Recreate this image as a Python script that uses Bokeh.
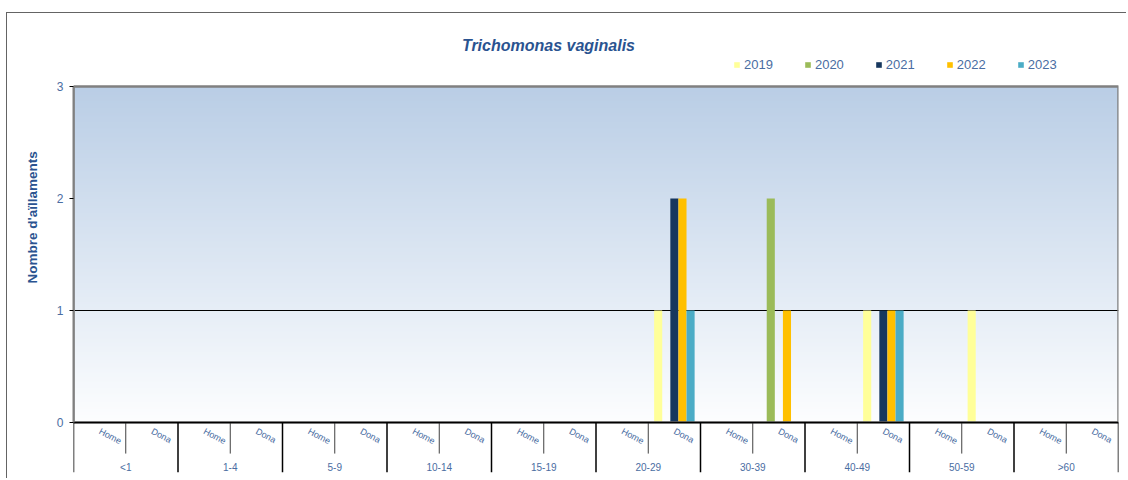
import numpy as np
from bokeh.plotting import figure
from bokeh.models import (FactorRange, Range1d, ColumnDataSource, Legend, LegendItem,
                          Label, FixedTicker, Title)
from bokeh.transform import dodge
from bokeh.embed import file_html
from bokeh.resources import INLINE

# ---------------- data ----------------
groups = ["<1", "1-4", "5-9", "10-14", "15-19", "20-29", "30-39", "40-49", "50-59", ">60"]
sexes = ["Home", "Dona"]
years = ["2019", "2020", "2021", "2022", "2023"]
colors = ["#FFFF99", "#9BBB59", "#17375E", "#FFC000", "#4BACC6"]

# values in order: for each group -> Home, Dona
v2019 = [0, 0, 0, 0, 0, 0, 0, 0, 0, 0, 0, 1, 0, 0, 0, 1, 0, 1, 0, 0]
v2020 = [0, 0, 0, 0, 0, 0, 0, 0, 0, 0, 0, 0, 0, 2, 0, 0, 0, 0, 0, 0]
v2021 = [0, 0, 0, 0, 0, 0, 0, 0, 0, 0, 0, 2, 0, 0, 0, 1, 0, 0, 0, 0]
v2022 = [0, 0, 0, 0, 0, 0, 0, 0, 0, 0, 0, 2, 0, 1, 0, 1, 0, 0, 0, 0]
v2023 = [0, 0, 0, 0, 0, 0, 0, 0, 0, 0, 0, 1, 0, 0, 0, 1, 0, 0, 0, 0]
series = [v2019, v2020, v2021, v2022, v2023]

y_ticks = [0, 1, 2, 3]
grid_ticks = [1]
title_text = "Trichomonas vaginalis"
y_label = "Nombre d'aïllaments"

# ---------------- styles ----------------
FONT = "Liberation Sans"
BLUE = "#4A6DA2"
DARK_BLUE = "#2A5390"
Y_MIN, Y_TOP, Y_MAX = -0.446, 3, 3.652

factors = [(g, s) for g in groups for s in sexes]
xr = FactorRange(*factors, range_padding=0, factor_padding=0,
                 subgroup_padding=0, group_padding=0)

p = figure(x_range=xr, y_range=Range1d(Y_MIN, Y_MAX), width=1120, height=466,
           output_backend="svg", toolbar_location=None,
           min_border_left=66, min_border_right=9, min_border_top=0,
           min_border_bottom=7)
p.margin = (12, 0, 0, 6)
p.styles = {"border-top": "1px solid #646464", "border-left": "1px solid #646464"}
p.outline_line_color = None
p.background_fill_color = "white"
p.border_fill_color = "white"

# background gradient of the plot area (0..3)
n = 256
t = np.linspace(0, 1, n)[:, None]
top_c = np.array([186, 206, 230], dtype=float)
bot_c = np.array([253, 254, 255], dtype=float)
rgb = bot_c * (1 - t) + top_c * t
img = np.empty((n, 2), dtype=np.uint32)
view = img.view(dtype=np.uint8).reshape((n, 2, 4))
for k in range(2):
    view[:, k, 0] = rgb[:, 0]
    view[:, k, 1] = rgb[:, 1]
    view[:, k, 2] = rgb[:, 2]
    view[:, k, 3] = 255
nf = len(factors)
p.image_rgba(image=[img], x=0, y=0, dw=nf, dh=Y_TOP, level="image")

# grid
p.xgrid.visible = False
p.ygrid[0].ticker = FixedTicker(ticks=grid_ticks)
p.ygrid.grid_line_color = "black"
p.ygrid.grid_line_width = 1

# bars
src = ColumnDataSource(dict(x=factors, **{yr: v for yr, v in zip(years, series)}))
bw = 0.155
items = []
for i, (yr, c) in enumerate(zip(years, colors)):
    r = p.vbar(x=dodge("x", (i - 2) * bw, range=p.x_range), top=yr, width=bw,
               source=src, fill_color=c, line_color=None)
    items.append(LegendItem(label=yr, renderers=[r]))

# plot-area border
p.quad(left=[0], right=[nf], bottom=[0], top=[Y_TOP], fill_color=None,
       line_color="#808080", line_width=2.5)

# category separators below the axis
ng = len(groups)
sub_x = [2 * i + 1 for i in range(ng)]
grp_x = [2 * i for i in range(ng + 1)]
p.segment(x0=sub_x, y0=[0] * ng, x1=sub_x, y1=[-0.277] * ng,
          line_color="#404040", line_width=1)
p.segment(x0=grp_x, y0=[0] * (ng + 1), x1=grp_x, y1=[Y_MIN] * (ng + 1),
          line_color="black", line_width=1.5)

# x axis (categorical, two levels) drawn at y = 0
xa = p.xaxis[0]
xa.fixed_location = 0
xa.axis_line_color = "black"
xa.axis_line_width = 1.5
xa.major_tick_line_color = None
xa.major_tick_out = 0
xa.major_tick_in = 0
xa.minor_tick_line_color = None
xa.major_label_orientation = -0.49
xa.major_label_standoff = 8
xa.major_label_text_font = FONT
xa.major_label_text_font_size = "9px"
xa.major_label_text_color = BLUE
xa.group_text_font = FONT
xa.group_text_font_size = "10px"
xa.group_text_font_style = "normal"
xa.group_text_color = BLUE
xa.separator_line_color = None

# y axis
ya = p.yaxis[0]
ya.ticker = FixedTicker(ticks=y_ticks)
ya.bounds = (0, Y_TOP)
ya.axis_line_color = "#808080"
ya.axis_line_width = 2
ya.major_tick_line_color = "black"
ya.major_tick_out = 4
ya.major_tick_in = 0
ya.minor_tick_line_color = None
ya.major_label_standoff = 6
ya.major_label_text_font = FONT
ya.major_label_text_font_size = "12px"
ya.major_label_text_color = BLUE

# y-axis title, placed in the left panel
ytitle = Title(text=y_label, align="left", offset=189, standoff=28,
               text_font=FONT, text_font_size="13.5px", text_font_style="bold",
               text_color=DARK_BLUE)
p.add_layout(ytitle, "left")

# legend
legend = Legend(items=items, orientation="horizontal", location=(660, 400),
                glyph_width=7, glyph_height=7, label_standoff=4, spacing=31,
                padding=0, margin=0, label_height=14,
                label_text_font=FONT, label_text_font_size="13px",
                label_text_color=BLUE, background_fill_alpha=0,
                border_line_color=None)
p.add_layout(legend)

# title
p.add_layout(Label(x=9.09, y=3.366, text=title_text, text_align="center",
                   text_baseline="middle", text_font=FONT, text_font_size="16px",
                   text_font_style="bold italic", text_color=DARK_BLUE))

open("out.html", "w").write(file_html(p, INLINE))
